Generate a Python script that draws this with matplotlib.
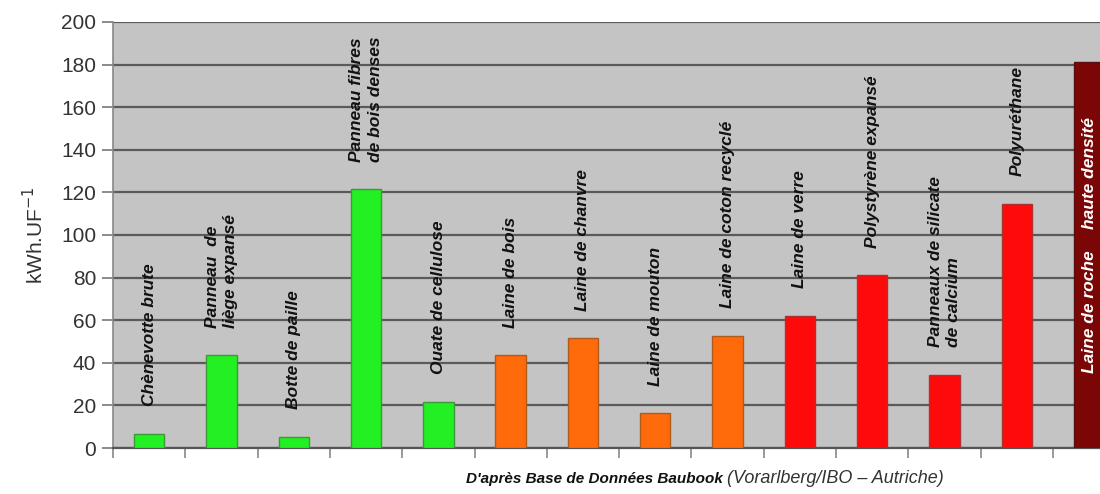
import matplotlib
matplotlib.use("Agg")
import matplotlib.pyplot as plt

plt.rcParams['font.family'] = ['Liberation Sans', 'DejaVu Sans']

# Energie grise des isolants (kWh.UF-1), d'apres Baubook
materiaux = [
    "Chènevotte brute", "Panneau  de\nliège expansé", "Botte de paille",
    "Panneau fibres\nde bois denses", "Ouate de cellulose", "Laine de bois",
    "Laine de chanvre", "Laine de mouton", "Laine de coton recyclé",
    "Laine de verre", "Polystyrène expansé", "Panneaux de silicate\nde calcium",
    "Polyuréthane", "Laine de roche haute densité",
]
valeurs = [6.5, 43.5, 5.3, 121.5, 21.7, 43.5, 51.5, 16.3, 52.6, 62, 81, 34.3, 114.5, 181]
couleurs = ["#22f022"] * 5 + ["#ff6a0a"] * 4 + ["#ff0a0a"] * 4 + ["#7a0606"]
bords = ["#3a9a3a"] * 5 + ["#b05a20"] * 4 + ["#b03030"] * 4 + ["#5a1010"]
yticks = list(range(0, 201, 20))

fig = plt.figure(figsize=(11, 4.94), dpi=100)
ax = fig.add_axes([0.1027, 0.0931, 0.8973, 0.8624])
ax.set_facecolor("#c4c4c4")

x = list(range(len(valeurs)))
ax.bar(x, valeurs, width=0.42, color=couleurs, edgecolor=bords, linewidth=1, zorder=3)

# labels au-dessus des barres
for i, (nom, v) in enumerate(zip(materiaux[:-1], valeurs[:-1])):
    ax.text(i, v + 13, nom, rotation=90, ha="center", va="bottom",
            fontsize=12.5, fontweight="bold", fontstyle="italic",
            multialignment="left", linespacing=1.3, color="#111111", zorder=4)

# laine de roche: texte blanc dans la barre
ax.text(13, 35, "Laine de roche", rotation=90, ha="center", va="bottom",
        fontsize=12.5, fontweight="bold", fontstyle="italic", color="white", zorder=4)
ax.text(13, 103, "haute densité", rotation=90, ha="center", va="bottom",
        fontsize=12.5, fontweight="bold", fontstyle="italic", color="white", zorder=4)

ax.set_yticks(yticks)
ax.set_xticks([i - 0.5 for i in range(15)])
ax.set_xticklabels([])
ax.set_ylim(0, 200)
ax.set_xlim(-0.5, 13.15)
ax.tick_params(axis="y", labelsize=15, length=8, width=1.2, color="#777777",
               labelcolor="#333333", pad=4)
ax.tick_params(axis="x", length=7, width=1.2, color="#888888")
ax.yaxis.grid(True, color="#5a5a5a", linewidth=1.6, zorder=1)
ax.set_axisbelow(True)

for s in ["top", "right"]:
    ax.spines[s].set_visible(False)
ax.spines["left"].set_color("#888888")
ax.spines["left"].set_linewidth(1.2)
ax.spines["bottom"].set_color("#555555")
ax.spines["bottom"].set_linewidth(1.6)

ax.set_ylabel("kWh.UF$^{-1}$", fontsize=15, color="#333333", labelpad=10)

fig.text(0.4235, 0.022, "D'après Base de Données Baubook", fontsize=11,
         fontweight="bold", fontstyle="italic", color="#111111")
fig.text(0.6605, 0.022, "(Vorarlberg/IBO – Autriche)", fontsize=13,
         fontstyle="italic", color="#333333")

fig.savefig("out.png", dpi=100)
